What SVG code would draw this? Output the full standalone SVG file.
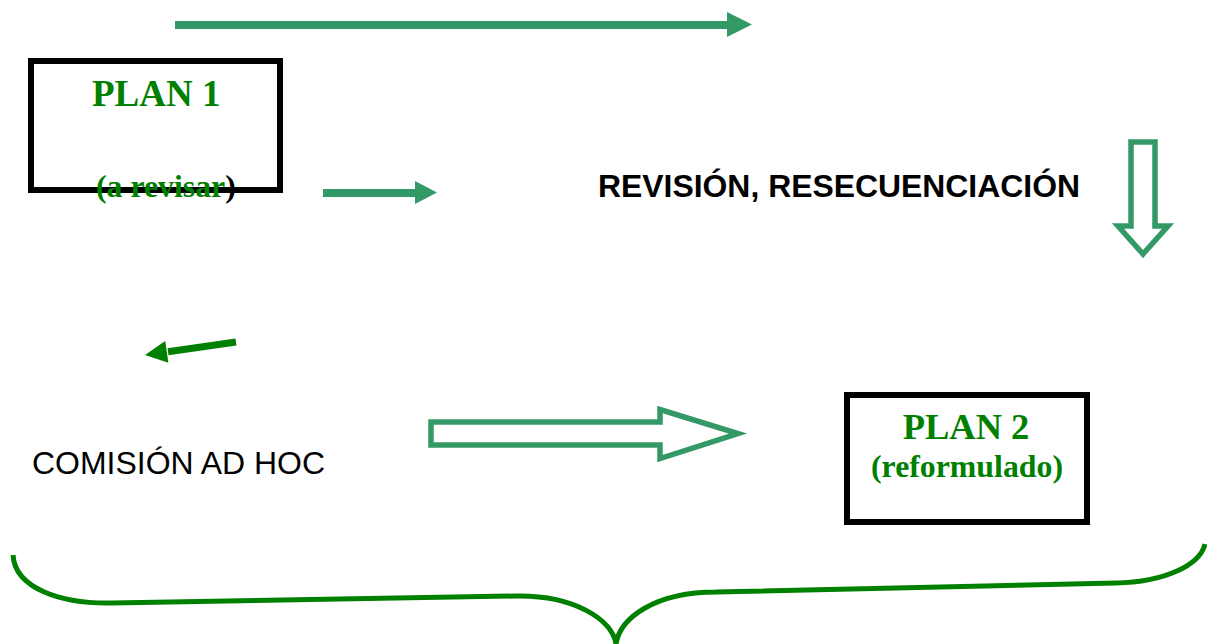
<svg xmlns="http://www.w3.org/2000/svg" width="1207" height="644" viewBox="0 0 1207 644">
<style>
.box{fill:#fff;stroke:#000;stroke-width:6}
.serif{font-family:"Liberation Serif","Times New Roman",serif;font-weight:bold;fill:#008000}
.sans{font-family:"Liberation Sans",Arial,sans-serif;fill:#000}
.sg{stroke:#339966;fill:none}
.sgf{fill:#339966}
.dg{stroke:#008000;fill:none}
.dgf{fill:#008000}
.hollow{fill:#fff;stroke:#339966;stroke-width:5.5}
</style>
<rect width="1207" height="644" fill="#fff"/>
<g id="plan1">
<rect class="box" x="31" y="61" width="249" height="129"/>
<text class="serif" x="92" y="106" font-size="37">PLAN 1</text>
<text class="serif" x="96" y="197" font-size="31.8">(a revisar<tspan fill="#000">)</tspan></text>
</g>
<g id="revision">
<text class="sans" x="598" y="197" font-size="31.5" font-weight="bold" textLength="482" lengthAdjust="spacingAndGlyphs">REVISIÓN, RESECUENCIACIÓN</text>
</g>
<g id="comision">
<text class="sans" x="32" y="474" font-size="32" textLength="293" lengthAdjust="spacingAndGlyphs">COMISIÓN AD HOC</text>
</g>
<g id="plan2">
<rect class="box" x="847" y="395" width="240" height="127"/>
<text class="serif" x="966" y="439" font-size="36.5" text-anchor="middle">PLAN 2</text>
<text class="serif" x="967" y="477" font-size="31" text-anchor="middle" textLength="192" lengthAdjust="spacingAndGlyphs">(reformulado)</text>
</g>
<g id="connectors">
<line class="sg" x1="175" y1="25" x2="729" y2="25" stroke-width="8"/>
<polygon class="sgf" points="727,12 752,24.5 727,37"/>
<line class="sg" x1="323" y1="193" x2="417" y2="193" stroke-width="8"/>
<polygon class="sgf" points="415,181 437,192.5 415,204"/>
<line class="dg" x1="236" y1="342" x2="168" y2="351.7" stroke-width="7"/>
<polygon class="dgf" points="145,355 168.4,362.8 165.2,341"/>
<polygon class="hollow" points="1131,142 1155,142 1155,226 1168,226 1143,254 1118,226 1131,226"/>
<polygon class="hollow" points="431,422 660,422 660,409.5 738,433.5 660,458.5 660,445 431,445"/>
<path class="dg" stroke-width="5" d="M13,555 C15,588 60,604 112,603 L516,596 C575,595 612,620 616,644 M616,644 C620,618 655,592 716,592 L1116,583 C1165,582 1200,565 1205,544"/>
</g>
</svg>
